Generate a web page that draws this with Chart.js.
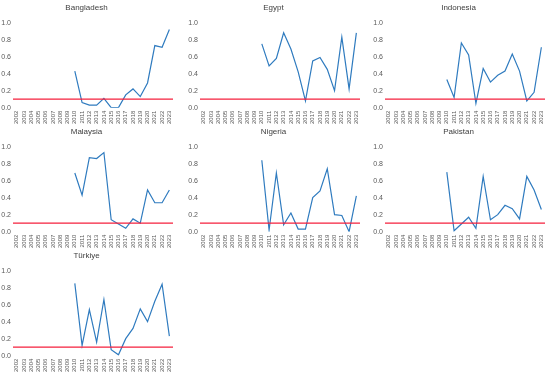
<!DOCTYPE html>
<html>
<head>
<meta charset="utf-8">
<script src="https://cdn.jsdelivr.net/npm/chart.js@4/dist/chart.umd.min.js"></script>
<style>
  body { margin: 0; background: #fff; }
  #wrap { position: relative; width: 550px; height: 376px; }
  .panel { position: absolute; width: 178px; height: 127px; }
</style>
</head>
<body>
<div id="wrap"></div>
<script>
// Categories (x axis)
const years = ['2002', '2003', '2004', '2005', '2006', '2007', '2008', '2009', '2010', '2011', '2012',
    '2013', '2014', '2015', '2016', '2017', '2018', '2019', '2020', '2021', '2022', '2023'];

// Series values, 2010 -> 2023 (no data before 2010)
const bangladesh = [0.43, 0.06, 0.03, 0.03, 0.11, 0.00, 0.00, 0.15, 0.22, 0.13, 0.29, 0.73, 0.71, 0.92];
const egypt      = [0.75, 0.49, 0.58, 0.88, 0.69, 0.42, 0.08, 0.55, 0.59, 0.45, 0.20, 0.83, 0.22, 0.88];
const indonesia  = [0.33, 0.12, 0.76, 0.62, 0.05, 0.46, 0.30, 0.38, 0.43, 0.63, 0.43, 0.08, 0.18, 0.71];
const malaysia   = [0.69, 0.43, 0.87, 0.86, 0.93, 0.14, 0.09, 0.04, 0.15, 0.10, 0.49, 0.34, 0.34, 0.49];
const nigeria    = [0.84, 0.02, 0.69, 0.08, 0.22, 0.03, 0.03, 0.40, 0.48, 0.74, 0.20, 0.19, 0.00, 0.42];
const pakistan   = [0.70, 0.01, 0.09, 0.17, 0.04, 0.65, 0.14, 0.20, 0.31, 0.27, 0.15, 0.65, 0.49, 0.26];
const turkiye    = [0.85, 0.12, 0.54, 0.16, 0.66, 0.07, 0.01, 0.20, 0.32, 0.55, 0.40, 0.64, 0.84, 0.23];

const countries = ['Bangladesh', 'Egypt', 'Indonesia', 'Malaysia', 'Nigeria', 'Pakistan', 'Türkiye'];
const series = [bangladesh, egypt, indonesia, malaysia, nigeria, pakistan, turkiye];

// Y axis ticks and threshold line
const yTicks = [0.0, 0.2, 0.4, 0.6, 0.8, 1.0];
const threshold = 0.1;

const firstDataYear = '2010';

// panel placement
const colLeft = [0, 187, 372];
const rowTop = [0, 124, 248];

// Draws the red threshold line across the plot area
const thresholdLine = {
    id: 'thresholdLine',
    afterDatasetsDraw(chart) {
        const { ctx, chartArea, scales } = chart;
        const y = scales.y.getPixelForValue(threshold);
        ctx.save();
        ctx.strokeStyle = '#f5203c';
        ctx.lineWidth = 1.3;
        ctx.beginPath();
        ctx.moveTo(chartArea.left, y);
        ctx.lineTo(chartArea.right, y);
        ctx.stroke();
        ctx.restore();
    }
};

const wrap = document.getElementById('wrap');
const font = "'Liberation Sans', 'DejaVu Sans', sans-serif";

countries.forEach((name, i) => {
    const div = document.createElement('div');
    div.className = 'panel';
    div.style.left = colLeft[i % 3] + 'px';
    div.style.top = rowTop[Math.floor(i / 3)] + 'px';
    const canvas = document.createElement('canvas');
    canvas.width = 178;
    canvas.height = 127;
    div.appendChild(canvas);
    wrap.appendChild(div);

    const pad = years.indexOf(firstDataYear);
    const data = new Array(pad).fill(null).concat(series[i]);

    new Chart(canvas.getContext('2d'), {
        type: 'line',
        data: {
            labels: years,
            datasets: [{
                label: name,
                data: data,
                borderColor: '#2f7bbf',
                borderWidth: 1.2,
                pointRadius: 0,
                tension: 0,
                spanGaps: false
            }]
        },
        options: {
            responsive: false,
            animation: false,
            layout: { padding: { left: 0, right: 5, top: 0, bottom: 0 } },
            plugins: {
                legend: { display: false },
                tooltip: { enabled: false },
                title: {
                    display: true,
                    text: name,
                    color: '#404040',
                    font: { family: font, size: 8, weight: 'normal' },
                    padding: { top: 3, bottom: 10 }
                }
            },
            scales: {
                x: {
                    offset: true,
                    grid: { display: false, drawTicks: false },
                    border: { display: false },
                    afterFit: axis => { axis.paddingLeft = 0; axis.paddingRight = 0; },
                    ticks: {
                        autoSkip: false,
                        minRotation: 90,
                        maxRotation: 90,
                        padding: 3,
                        color: '#595959',
                        font: { family: font, size: 6 }
                    }
                },
                y: {
                    min: 0,
                    max: 1,
                    afterBuildTicks: axis => { axis.ticks = yTicks.map(v => ({ value: v })); },
                    afterFit: axis => { axis.width = 13; },
                    grid: { display: false, drawTicks: false },
                    border: { display: false },
                    ticks: {
                        padding: 2,
                        color: '#595959',
                        font: { family: font, size: 7 },
                        callback: v => v.toFixed(1)
                    }
                }
            }
        },
        plugins: [thresholdLine]
    });
});
</script>
</body>
</html>
